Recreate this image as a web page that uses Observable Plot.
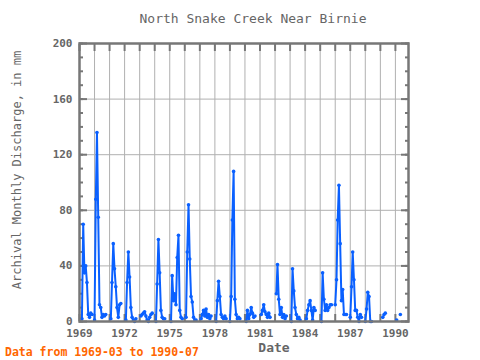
<!DOCTYPE html>
<html><head><meta charset="utf-8">
<script src="https://cdn.jsdelivr.net/npm/d3@7"></script>
<script src="https://cdn.jsdelivr.net/npm/@observablehq/plot@0.6"></script>
<style>body{margin:0;background:#fff;} svg{display:block;}</style>
</head><body><div id="chart"></div>
<script>
// Monthly discharge (mm), Jan..Dec per year; null = missing
const years = [1969,1970,1971,1972,1973,1974,1975,1976,1977,1978,1979,1980,1981,1982,1983,1984,1985,1986,1987,1988,1989,1990];
const monthly = [
  [null,null,2,70,35,40,28,5,3,6,5,null],
  [1,88,136,75,12,10,3,5,4,5,null,null],
  [null,2,28,56,38,25,10,3,12,13,null,null],
  [null,1,28,50,32,10,3,1,0,2,null,null],
  [null,4,5,6,7,4,1,0,3,5,6,null],
  [null,0,27,59,35,8,3,2,2,null,null,null],
  [null,0,33,15,20,12,46,62,8,3,2,null],
  [null,3,50,84,45,18,14,3,1,1,null,null],
  [null,2,5,8,4,9,3,5,2,4,null,null],
  [null,0,15,29,18,5,3,2,4,2,null,null],
  [0,18,73,108,16,5,2,3,2,null,null,null],
  [null,0,8,2,5,10,6,3,4,null,null,null],
  [null,5,8,12,7,5,3,6,3,null,null,null],
  [null,20,41,16,5,10,3,5,2,4,null,null],
  [null,0,38,22,10,5,2,3,1,null,null,null],
  [null,2,8,12,15,8,1,10,8,null,null,null],
  [null,0,35,16,8,12,8,10,12,12,null,null],
  [12,30,73,98,56,15,23,5,5,5,null,null],
  [3,25,50,30,8,8,3,0,5,3,null,null],
  [0,9,21,18,0,0,null,null,null,null,null,null],
  [null,null,3,5,6,null,null,null,null,null,null,null],
  [null,1,null,null,5,null,null,null,null,null,null,null]
];
const yTicks = [0,40,80,120,160,200];
const yMinor = d3.range(0,201,10);
const titleText = "North Snake Creek Near Birnie";
const yLabel = "Archival Monthly Discharge, in mm";
const xLabel = "Date";
const footer = "Data from 1969-03 to 1990-07";

const data = [];
years.forEach((yr, i) => monthly[i].forEach((v, k) => {
  const date = new Date(Date.UTC(yr, k, 1));
  if (date < new Date(Date.UTC(1969,2,1)) || date > new Date(Date.UTC(1990,6,1))) return;
  data.push({date, value: v == null ? NaN : v});
}));
const pts = data.filter(d => !isNaN(d.value));

const blue = "#0a60ff", frameCol = "#777", gridCol = "#b0b0b0", textCol = "#666";
const yearTicks = d3.utcYear.range(new Date(Date.UTC(1969,0,1)), new Date(Date.UTC(1990,1,1)));
const labelTicks = yearTicks.filter(d => (d.getUTCFullYear() - 1969) % 3 === 0);

const chart = Plot.plot({
  width: 480, height: 360,
  marginLeft: 79, marginRight: 72, marginTop: 43, marginBottom: 39,
  style: {fontFamily: "DejaVu Sans Mono", fontSize: "11px", color: textCol, background: "#fff"},
  x: {type: "utc", domain: [new Date(Date.UTC(1969,0,1)), new Date(Date.UTC(1990,10,15))]},
  y: {domain: [0, 200]},
  marks: [
    Plot.gridX(yearTicks, {stroke: gridCol, strokeOpacity: 1, strokeWidth: 1}),
    Plot.gridY([40,80,120,160], {stroke: gridCol, strokeOpacity: 1, strokeWidth: 1}),
    Plot.axisX(labelTicks, {anchor: "bottom", tickSize: 0, tickPadding: 8, tickFormat: "%Y", label: null, fill: textCol, fontSize: 11, fontWeight: "bold"}),
    Plot.axisX(yearTicks, {anchor: "bottom", tickSize: 7, dy: -7, text: null, label: null, stroke: frameCol, strokeWidth: 2}),
    Plot.axisX(yearTicks, {anchor: "top", tickSize: 7, dy: 7, text: null, label: null, stroke: frameCol, strokeWidth: 2}),
    Plot.axisY(yTicks, {anchor: "left", tickSize: 0, tickPadding: 7, label: null, fill: textCol, fontSize: 11, fontWeight: "bold"}),
    Plot.axisY(yTicks, {anchor: "left", tickSize: 8, dx: 8, text: null, label: null, stroke: frameCol, strokeWidth: 2}),
    Plot.axisY(yMinor, {anchor: "left", tickSize: 4, dx: 4, text: null, label: null, stroke: frameCol, strokeWidth: 2}),
    Plot.axisY(yTicks, {anchor: "right", tickSize: 8, dx: -8, text: null, label: null, stroke: frameCol, strokeWidth: 2}),
    Plot.axisY(yMinor, {anchor: "right", tickSize: 4, dx: -4, text: null, label: null, stroke: frameCol, strokeWidth: 2}),
    Plot.line(data, {x: "date", y: "value", stroke: blue, strokeWidth: 2}),
    Plot.dot(pts, {x: "date", y: "value", r: 1.8, fill: blue, stroke: "none"}),
    Plot.frame({stroke: frameCol, strokeWidth: 2.5})
  ]
});

const svg = d3.select(chart);
svg.append("text").attr("x", 253).attr("y", 23).attr("text-anchor", "middle")
  .attr("font-family", "DejaVu Sans Mono").attr("font-size", 13).attr("fill", textCol).text(titleText);
svg.append("text").attr("transform", "translate(21,170) rotate(-90)").attr("text-anchor", "middle")
  .attr("font-family", "DejaVu Sans Mono").attr("font-size", 12).attr("fill", textCol).text(yLabel);
svg.append("text").attr("x", 274).attr("y", 352).attr("text-anchor", "middle")
  .attr("font-family", "DejaVu Sans Mono").attr("font-size", 13).attr("font-weight", "bold").attr("fill", textCol).text(xLabel);
svg.append("text").attr("x", 5).attr("y", 356).attr("text-anchor", "start")
  .attr("font-family", "DejaVu Sans Mono").attr("font-size", 11.5).attr("font-weight", "bold").attr("fill", "#ff6600").text(footer);

document.getElementById("chart").appendChild(chart);
</script>
</body></html>
